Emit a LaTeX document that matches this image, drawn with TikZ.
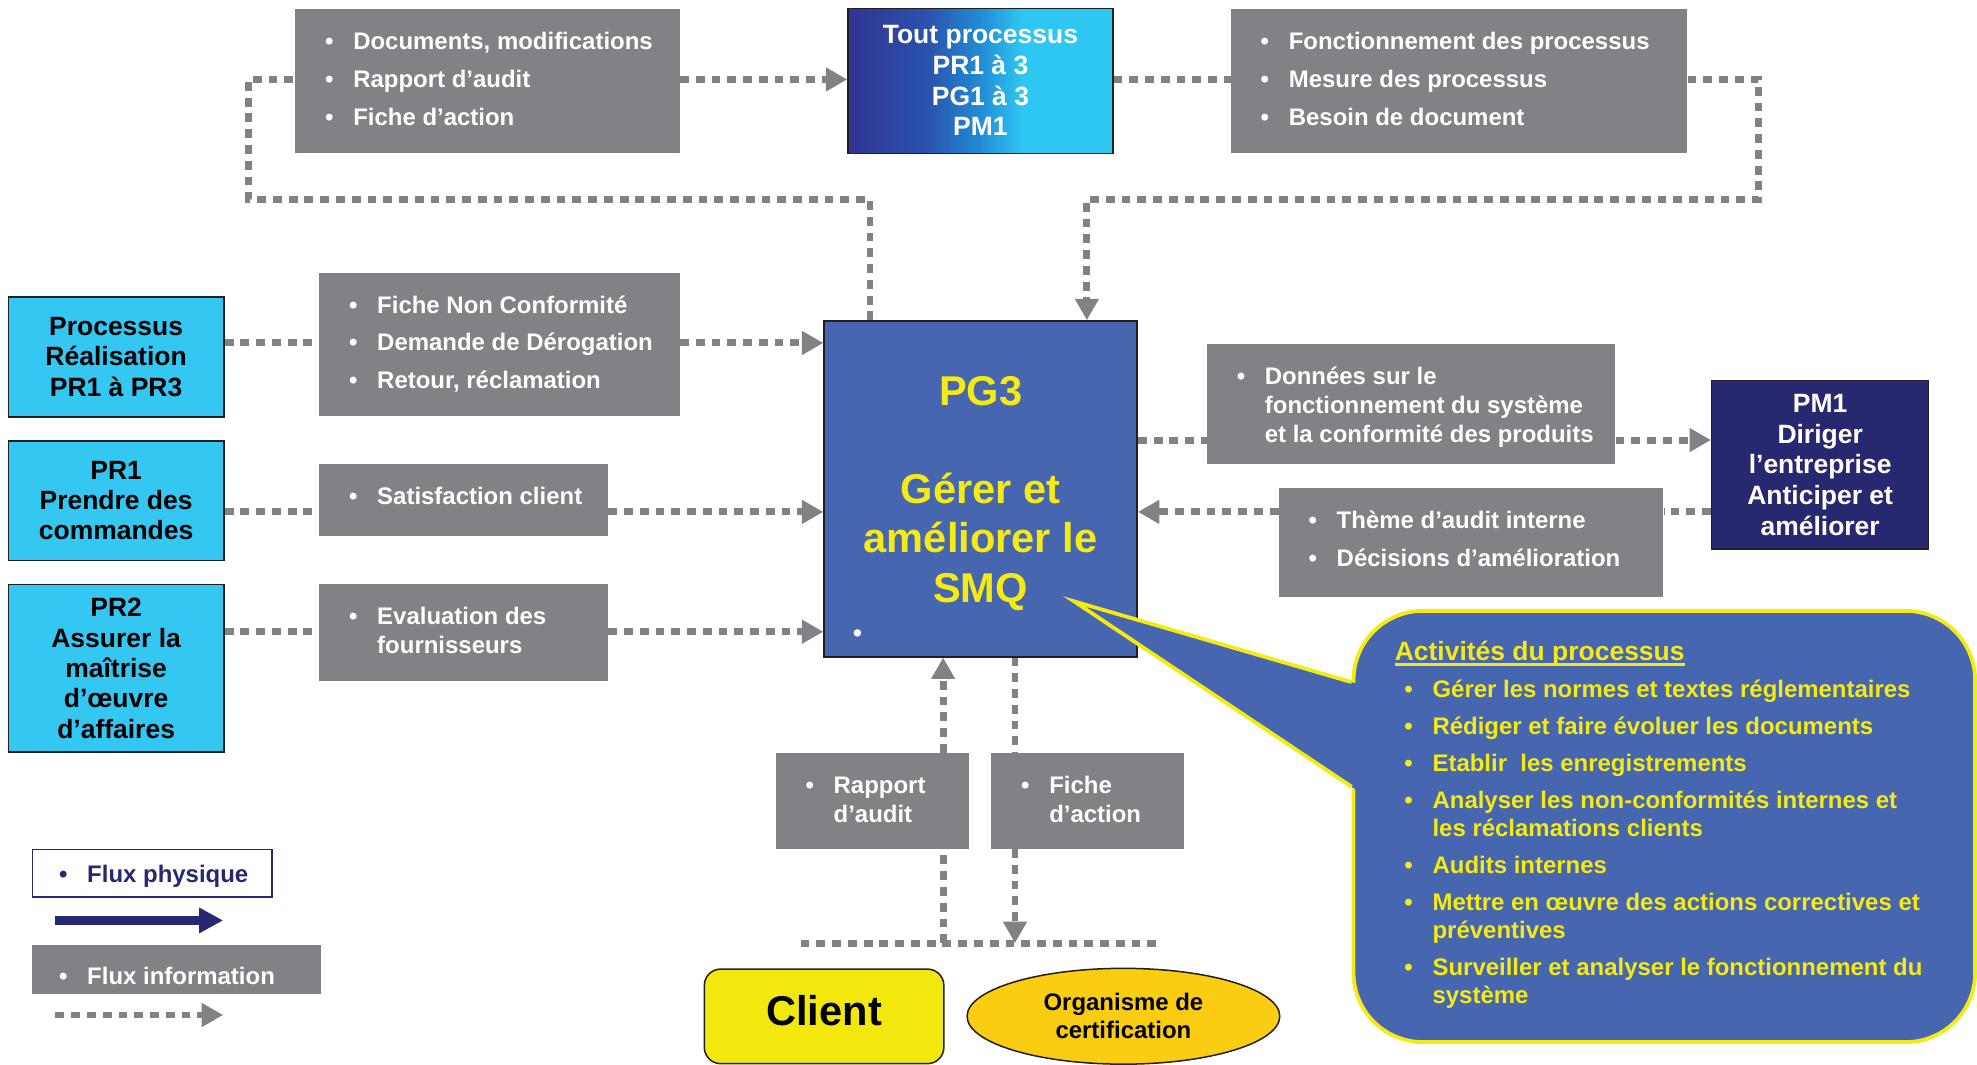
\documentclass[tikz,border=0pt]{standalone}
\usepackage{fontspec}
\setmainfont{Liberation Sans}
\usetikzlibrary{arrows.meta,calc,shapes.geometric}

\definecolor{infogray}{RGB}{129,130,134}
\definecolor{procblue}{RGB}{70,103,175}
\definecolor{cyanbox}{RGB}{52,199,242}
\definecolor{navybox}{RGB}{39,40,112}
\definecolor{smqyellow}{RGB}{245,234,20}
\definecolor{clientyellow}{RGB}{242,232,14}
\definecolor{certorange}{RGB}{250,204,18}
\definecolor{edge}{RGB}{35,31,32}
\definecolor{gradnavy}{RGB}{48,52,145}
\definecolor{gradmidA}{RGB}{42,82,172}
\definecolor{gradmidB}{RGB}{34,140,214}
\definecolor{gradcyan}{RGB}{46,199,242}

% left-to-right shading of the "Tout processus" box
\pgfdeclarehorizontalshading{toutshade}{100bp}{color(0bp)=(gradnavy); color(25bp)=(gradnavy); color(40bp)=(gradmidA); color(50bp)=(gradmidB); color(58bp)=(gradcyan); color(100bp)=(gradcyan)}

% bullet column and continuation indent for the item lists
\newcommand\bul{\makebox[22.3pt][l]{\textbullet}}
\newcommand\cont{\hspace*{22.3pt}}
\newcommand\ulthick[1]{\setbox0\hbox{#1}\rlap{\rule[-4.5pt]{\wd0}{2.4pt}}\box0}

% grey information box: name, x, y, width, height, lines
\newcommand\infobox[6]{%
  \node[info, minimum width=#4pt, minimum height=#5pt] (#1) at (#2,#3) {};
  \node[infotext] (#1-t) at ($(#1.north west)+(23.7,32.3)$)
    {\begin{tabular}[t]{@{}l@{}}#6\end{tabular}};}

\begin{document}
\begin{tikzpicture}[x=1pt,y=-1pt,
  info/.style={fill=infogray, inner sep=0pt, anchor=north west},
  infotext/.style={anchor=base west, inner sep=0pt, text=white,
    font=\fontsize{19}{23}\selectfont\bfseries},
  flow/.style={draw=infogray, line width=5.5pt, dash pattern=on 7pt off 5.5pt},
  flowarrow/.style={flow, -{Triangle[length=17pt,width=18pt]}},
  procbox/.style={draw=edge, line width=1.2pt, fill=cyanbox, align=center,
    inner sep=0pt, anchor=north west, font=\fontsize{21}{24}\selectfont\bfseries}]

\useasboundingbox (0,0) rectangle (1568,844);

% ---- central process
\node[draw=edge, line width=1.5pt, fill=procblue, minimum width=248pt,
  minimum height=266pt, anchor=north west, inner sep=0pt, align=center,
  text height=186pt, text=smqyellow, font=\fontsize{33}{39}\selectfont\bfseries] (pg3) at (653,254)
  {PG3\\[39pt]Gérer et\\améliorer le\\SMQ};
\node[circle, fill=white, inner sep=0pt, minimum size=6pt] (pg3-dot) at (680,502) {};

% ---- top row
\node[draw=edge, line width=1.2pt, shade, shading=toutshade, minimum width=210pt,
  minimum height=115pt, anchor=north west, inner sep=0pt, align=center, text=white,
  font=\fontsize{21}{24.3}\selectfont\bfseries] (tout) at (672,6)
  {Tout processus\\PR1 à 3\\PG1 à 3\\PM1};
\infobox{docs}{234}{7}{305}{114}{\bul Documents, modifications\\[7pt]\bul Rapport d’audit\\[7pt]\bul Fiche d’action}
\infobox{need}{976}{7}{362}{114}{\bul Fonctionnement des processus\\[7pt]\bul Mesure des processus\\[7pt]\bul Besoin de document}

% ---- left column
\node[procbox, minimum width=171pt, minimum height=95pt] (c1) at (6,235) {Processus\\Réalisation\\PR1 à PR3};
\node[procbox, minimum width=171pt, minimum height=95pt] (pr1) at (6,349) {PR1\\Prendre des\\commandes};
\node[procbox, minimum width=171pt, minimum height=133pt] (pr2) at (6,463) {PR2\\Assurer la\\maîtrise\\d’œuvre\\d’affaires};

\infobox{fnc}{253}{216}{286}{114}{\bul Fiche Non Conformité\\[7pt]\bul Demande de Dérogation\\[7pt]\bul Retour, réclamation}
\infobox{sat}{253}{368}{229}{57}{\bul Satisfaction client}
\infobox{eva}{253}{463}{229}{77}{\bul Evaluation des\\\cont fournisseurs}

% ---- right side
\infobox{don}{957}{273}{324}{95}{\bul Données sur le\\\cont fonctionnement du système\\\cont et la conformité des produits}
\infobox{the}{1014}{387}{305}{86}{\bul Thème d’audit interne\\[7pt]\bul Décisions d’amélioration}
\node[draw=edge, line width=1.2pt, fill=navybox, minimum width=172pt, minimum height=134pt,
  anchor=north west, inner sep=0pt, align=center, text=white,
  font=\fontsize{21}{24.3}\selectfont\bfseries] (pm1) at (1357,301)
  {PM1\\Diriger\\l’entreprise\\Anticiper et\\améliorer};

% ---- bottom
\infobox{rap}{615}{597}{153}{76}{\bul Rapport\\\cont d’audit}
\infobox{fic}{786}{597}{153}{76}{\bul Fiche\\\cont d’action}
\node[draw=edge, line width=1.2pt, fill=clientyellow, rounded corners=13pt,
  minimum width=190pt, minimum height=75pt, anchor=north west, inner sep=0pt,
  font=\fontsize{33}{39}\selectfont\bfseries] (client) at (558,768) {\raisebox{9pt}{Client}};
\node[ellipse, draw=edge, line width=1.2pt, fill=certorange, minimum width=248pt,
  minimum height=76pt, inner sep=0pt, align=center,
  font=\fontsize{19}{22}\selectfont\bfseries] (cert) at (891,806) {Organisme de\\certification};

% ---- connector routing points
\coordinate (k1) at (690,158);
\coordinate (k2) at (197,158);
\coordinate (k3) at (197,63);
\coordinate (k4) at (1395,63);
\coordinate (k5) at (1395,158);
\coordinate (k6) at (862,158);
\coordinate (r1) at (0,272);
\coordinate (r2) at (0,406);
\coordinate (r3) at (0,501);
\coordinate (r4) at (0,349);
\coordinate (jr) at (748,748);
\coordinate (jf) at (805,748);
\coordinate (hl) at (635,748);
\coordinate (hr) at (918,748);

% ---- information flows
\draw[flow] (k1 |- pg3.north) -- (k1) -- (k2) -- (k3) -- (k3 -| docs.west);
\draw[flowarrow] (k3 -| docs.east) -- (k3 -| tout.west);
\draw[flow] (k4 -| tout.east) -- (k4 -| need.west);
\draw[flowarrow] (k4 -| need.east) -- (k4) -- (k5) -- (k6) -- (k6 |- pg3.north);

\draw[flow] (r1 -| c1.east) -- (r1 -| fnc.west);
\draw[flowarrow] (r1 -| fnc.east) -- (r1 -| pg3.west);
\draw[flow] (r2 -| pr1.east) -- (r2 -| sat.west);
\draw[flowarrow] (r2 -| sat.east) -- (r2 -| pg3.west);
\draw[flow] (r3 -| pr2.east) -- (r3 -| eva.west);
\draw[flowarrow] (r3 -| eva.east) -- (r3 -| pg3.west);

\draw[flow] (r4 -| pg3.east) -- (r4 -| don.west);
\draw[flowarrow] (r4 -| don.east) -- (r4 -| pm1.west);
\draw[flow] (r2 -| pm1.west) -- (r2 -| the.east);
\draw[flowarrow] (r2 -| the.west) -- (r2 -| pg3.east);

\draw[flow] (hl) -- (hr);
\draw[flow] (jr) -- (jr |- rap.south);
\draw[flowarrow] (jr |- rap.north) -- (jr |- pg3.south);
\draw[flow] (jf |- pg3.south) -- (jf |- fic.north);
\draw[flowarrow] (jf |- fic.south) -- (jf);

% ---- activities callout
\node[draw=smqyellow, line width=3pt, fill=procblue, rounded corners=55pt,
  minimum width=493pt, minimum height=342pt, anchor=north west, inner sep=0pt] (acts) at (1072,483) {};
\coordinate (tip) at (852,477);
\coordinate (pa) at (1072,541);
\coordinate (pb) at (1072,624);
\fill[procblue] (tip) -- (1077,542.5) -- (1077,627.3) -- cycle;
\draw[smqyellow, line width=3pt] (pa) -- (tip) -- (pb);
\node[anchor=base west, inner sep=0pt, text=smqyellow,
  font=\fontsize{19}{22}\selectfont\bfseries] (acts-t) at (1106,523.5)
  {\begin{tabular}[t]{@{}l@{}}
   {\fontsize{21}{22}\selectfont\ulthick{Activités du processus}}\\[7.3pt]
   \hspace*{7.7pt}\bul Gérer les normes et textes réglementaires\\[7.5pt]
   \hspace*{7.7pt}\bul Rédiger et faire évoluer les documents\\[7.5pt]
   \hspace*{7.7pt}\bul Etablir\ \ les enregistrements\\[7.5pt]
   \hspace*{7.7pt}\bul Analyser les non-conformités internes et\\
   \hspace*{30pt}les réclamations clients\\[7.5pt]
   \hspace*{7.7pt}\bul Audits internes\\[7.5pt]
   \hspace*{7.7pt}\bul Mettre en œuvre des actions correctives et\\
   \hspace*{30pt}préventives\\[7.5pt]
   \hspace*{7.7pt}\bul Surveiller et analyser le fonctionnement du\\
   \hspace*{30pt}système
  \end{tabular}};

% ---- legend
\node[draw=navybox, line width=1.2pt, fill=white, minimum width=190pt, minimum height=38pt,
  anchor=north west, inner sep=0pt] (lphys) at (25,673) {};
\node[anchor=base west, inner sep=0pt, text=navybox,
  font=\fontsize{19}{23}\selectfont\bfseries] (lphys-t) at (46.7,699.8) {\bul Flux physique};
\coordinate (la1) at (44,730);
\coordinate (la2) at (177,730);
\draw[navybox, line width=7pt, -{Triangle[length=19pt,width=19pt]}] (la1) -- (la2);
\node[info, minimum width=229pt, minimum height=39pt] (linfo) at (25,749) {};
\node[infotext] (linfo-t) at (46.7,781) {\bul Flux information};
\coordinate (li1) at (44,805);
\coordinate (li2) at (177,805);
\draw[flowarrow] (li1) -- (li2);

\end{tikzpicture}
\end{document}
